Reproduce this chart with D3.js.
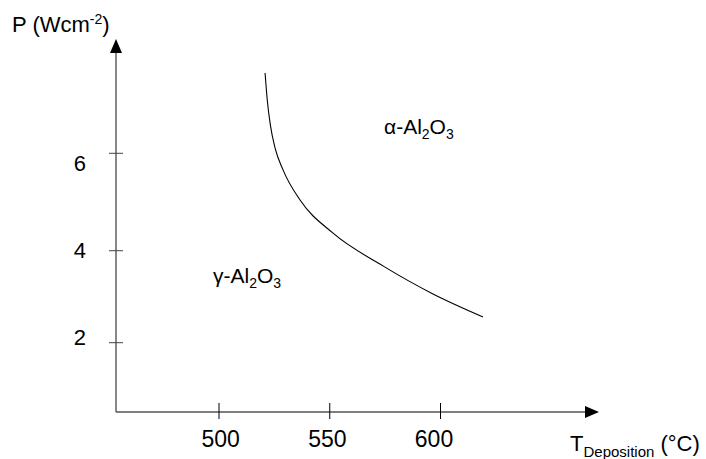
<!DOCTYPE html>
<html>
<head>
<meta charset="utf-8">
<script src="https://cdn.jsdelivr.net/npm/d3@7"></script>
<style>
  html, body { margin: 0; padding: 0; background: #fff; }
  svg { display: block; font-family: "Liberation Sans", Arial, sans-serif; }
</style>
</head>
<body>
<svg id="chart" width="706" height="459"></svg>
<script>
// Tick values on each axis
const xTicks = [500, 550, 600];
const yTicks = [2, 4, 6];

// Phase boundary between gamma and alpha alumina: deposition temperature (°C) vs power density (W/cm²)
const boundaryT = [520.8, 521.8, 523.2, 525.3, 528.9, 536.6, 551.5, 574.0, 596.6, 619.2];
const boundaryP = [7.65, 7.09, 6.58, 6.11, 5.66, 5.04, 4.36, 3.67, 3.06, 2.56];

const svg = d3.select("#chart");

// Frame: origin of the axes and arrow tips
const originX = 116, originY = 412;
const xArrowTip = 599, yArrowTip = 39;

const x = d3.scaleLinear().domain([500, 600]).range([219, 440.5]);
const y = d3.scaleLinear().domain([2, 4, 6]).range([342.7, 250.7, 153.3]);
// Tick labels sit on their own slightly offset positions
const xLabel = d3.scaleLinear().domain([500, 600]).range([220.7, 434]);
const yLabel = d3.scaleLinear().domain([2, 6]).range([337, 163]);

const axisColor = "#555";

// Axis lines
svg.append("line")
  .attr("x1", originX).attr("y1", originY)
  .attr("x2", xArrowTip - 10).attr("y2", originY)
  .attr("stroke", axisColor).attr("stroke-width", 1.4);
svg.append("line")
  .attr("x1", originX).attr("y1", originY)
  .attr("x2", originX).attr("y2", yArrowTip + 10)
  .attr("stroke", axisColor).attr("stroke-width", 1.4);

// Arrow heads
svg.append("path")
  .attr("d", `M${xArrowTip},${originY} L${xArrowTip - 14},${originY - 6} L${xArrowTip - 14},${originY + 6} Z`)
  .attr("fill", "#000");
svg.append("path")
  .attr("d", `M${originX},${yArrowTip} L${originX - 6},${yArrowTip + 14} L${originX + 6},${yArrowTip + 14} Z`)
  .attr("fill", "#000");

// X ticks (crossing the axis)
svg.selectAll("line.xtick").data(xTicks).join("line")
  .attr("class", "xtick")
  .attr("x1", d => x(d)).attr("x2", d => x(d))
  .attr("y1", originY - 9).attr("y2", originY + 7)
  .attr("stroke", "#000").attr("stroke-width", 1);

svg.selectAll("text.xlabel").data(xTicks).join("text")
  .attr("class", "xlabel")
  .attr("x", d => xLabel(d)).attr("y", 447)
  .attr("text-anchor", "middle")
  .attr("font-size", 23)
  .text(d => d);

// Y ticks (crossing the axis)
svg.selectAll("line.ytick").data(yTicks).join("line")
  .attr("class", "ytick")
  .attr("x1", originX - 7).attr("x2", originX + 7)
  .attr("y1", d => y(d)).attr("y2", d => y(d))
  .attr("stroke", "#444").attr("stroke-width", 1);

svg.selectAll("text.ylabel").data(yTicks).join("text")
  .attr("class", "ylabel")
  .attr("x", 86).attr("y", d => yLabel(d))
  .attr("dy", "0.36em")
  .attr("text-anchor", "end")
  .attr("font-size", 22)
  .text(d => d);

// Boundary curve
const pts = boundaryT.map((t, i) => [t, boundaryP[i]]);
svg.append("path")
  .datum(pts)
  .attr("fill", "none")
  .attr("stroke", "#000")
  .attr("stroke-width", 1.1)
  .attr("d", d3.line().x(d => x(d[0])).y(d => y(d[1])).curve(d3.curveMonotoneX));

// Axis titles
const yTitle = svg.append("text").attr("x", 12).attr("y", 32).attr("font-size", 22);
yTitle.append("tspan").text("P (Wcm");
yTitle.append("tspan").attr("font-size", 14).attr("dy", -8).text("-2");
yTitle.append("tspan").attr("dy", 8).text(")");

const xTitle = svg.append("text").attr("x", 570).attr("y", 451).attr("font-size", 22);
xTitle.append("tspan").text("T");
xTitle.append("tspan").attr("font-size", 15).attr("dy", 6).text("Deposition");
xTitle.append("tspan").attr("dy", -6).text(" (°C)");

// Phase region labels
function phaseLabel(symbol, px, py) {
  const t = svg.append("text").attr("x", px).attr("y", py).attr("font-size", 21);
  t.append("tspan").text(symbol + "-Al");
  t.append("tspan").attr("font-size", 14).attr("dy", 5).text("2");
  t.append("tspan").attr("dy", -5).text("O");
  t.append("tspan").attr("font-size", 14).attr("dy", 5).text("3");
}
phaseLabel("α", 384, 134);
phaseLabel("γ", 213, 283);
</script>
</body>
</html>
